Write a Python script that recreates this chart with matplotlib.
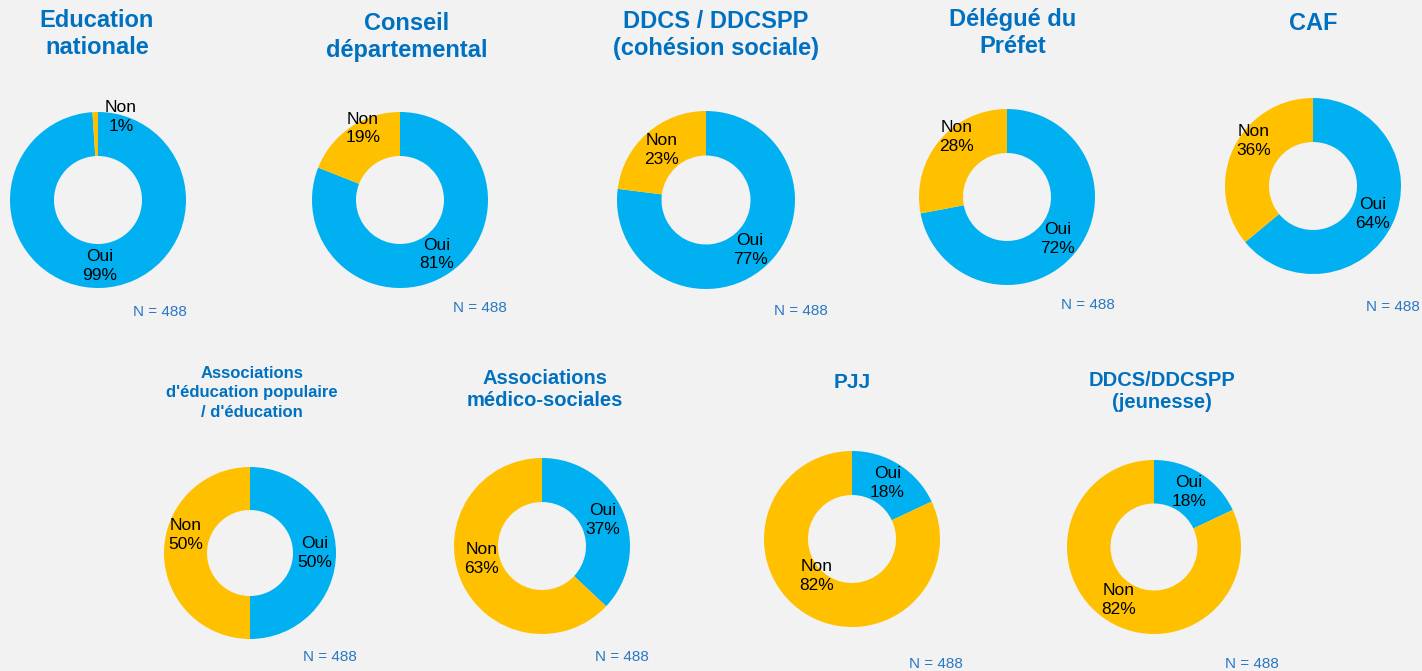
import matplotlib.pyplot as plt
import numpy as np

plt.rcParams['font.family'] = ['Liberation Sans', 'DejaVu Sans']

W, H = 1422, 671

titres = ["Education\nnationale", "Conseil\ndépartemental", "DDCS / DDCSPP\n(cohésion sociale)",
          "Délégué du\nPréfet", "CAF",
          "Associations\nd'éducation populaire\n/ d'éducation", "Associations\nmédico-sociales",
          "PJJ", "DDCS/DDCSPP\n(jeunesse)"]
oui = [99, 81, 77, 72, 64, 50, 37, 18, 18]
non = [1, 19, 23, 28, 36, 50, 63, 82, 82]
n_total = [488] * 9

# mise en page (pixels)
centres = [(98, 200), (400, 200), (706, 200), (1007, 197), (1313, 186),
           (250, 553), (542, 546), (852, 539), (1154, 547)]
rayon = [88, 88, 89, 88, 88, 86, 88, 88, 87]
titre_pos = [(97, 34), (407, 37), (716, 35), (1013, 33), (1313, 24),
             (252, 393), (545, 389), (852, 383), (1162, 391)]
titre_taille = [17, 17, 17, 17, 17, 12, 14.5, 15, 14.5]
n_pos = [(160, 312), (480, 308), (801, 311), (1088, 305), (1393, 307),
         (330, 657), (622, 657), (936, 664), (1252, 664)]
# petit decalage vertical des etiquettes "Non" (px)
decal_non = [0, 17, 0, 18, 17, 18, 13, 19, 2]

bleu = '#00B0F0'
jaune = '#FFC000'
fond = '#F2F2F2'

fig = plt.figure(figsize=(W / 100, H / 100), dpi=100, facecolor=fond)

for i in range(9):
    cx, cy = centres[i]
    r = rayon[i]
    ax = fig.add_axes([(cx - r) / W, 1 - (cy + r) / H, 2 * r / W, 2 * r / H])
    ax.set_facecolor(fond)
    vals = [oui[i], non[i]]
    ax.pie(vals, colors=[bleu, jaune], startangle=90, counterclock=False,
           radius=1, wedgeprops=dict(width=0.5, edgecolor='none'))
    ax.set_xlim(-1, 1)
    ax.set_ylim(-1, 1)
    ax.set_aspect('equal')
    ax.axis('off')

    # etiquettes
    debut = 90
    noms = ['Oui', 'Non']
    for k, v in enumerate(vals):
        milieu = debut - v / 100 * 180
        debut = debut - v / 100 * 360
        x = 0.75 * np.cos(np.radians(milieu))
        y = 0.75 * np.sin(np.radians(milieu))
        if noms[k] == 'Non':
            y += decal_non[i] / r
            if v < 5:
                x, y = 0.26, 0.94
        ax.text(x, y, f"{noms[k]}\n{v}%", ha='center', va='center', fontsize=12.5,
                color='black', linespacing=1.3, clip_on=False)

    tx, ty = titre_pos[i]
    fig.text(tx / W, 1 - ty / H, titres[i], ha='center', va='center',
             fontsize=titre_taille[i], fontweight='bold', color='#0070C0',
             linespacing=1.2 if i != 5 else 1.35)

    nx, ny = n_pos[i]
    fig.text(nx / W, 1 - ny / H, f"N = {n_total[i]}", ha='center', va='center',
             fontsize=11, color='#2A78C4')

fig.savefig('out.png', dpi=100, facecolor=fond)
